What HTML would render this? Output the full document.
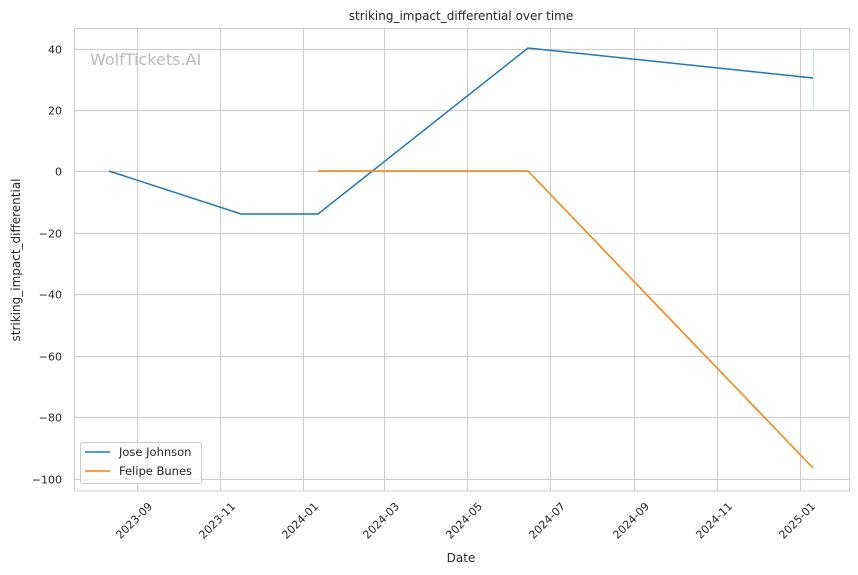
<!DOCTYPE html>
<html><head><meta charset="utf-8"><style>
body{margin:0;background:#fff}
svg{display:block;font-family:"DejaVu Sans","Liberation Sans",sans-serif}
</style></head><body>
<svg width="858" height="575" xmlns="http://www.w3.org/2000/svg">
<rect width="858" height="575" fill="#fff"/>
<g stroke="#cccccc" stroke-width="1">
<line x1="137.5" y1="28" x2="137.5" y2="491"/><line x1="220.5" y1="28" x2="220.5" y2="491"/>
<line x1="303.5" y1="28" x2="303.5" y2="491"/><line x1="384.5" y1="28" x2="384.5" y2="491"/>
<line x1="467.5" y1="28" x2="467.5" y2="491"/><line x1="550.5" y1="28" x2="550.5" y2="491"/>
<line x1="634.5" y1="28" x2="634.5" y2="491"/><line x1="717.5" y1="28" x2="717.5" y2="491"/>
<line x1="800.5" y1="28" x2="800.5" y2="491"/>
<line x1="74" y1="49.5" x2="849" y2="49.5"/><line x1="74" y1="110.5" x2="849" y2="110.5"/>
<line x1="74" y1="171.5" x2="849" y2="171.5"/><line x1="74" y1="233.5" x2="849" y2="233.5"/>
<line x1="74" y1="294.5" x2="849" y2="294.5"/><line x1="74" y1="356.5" x2="849" y2="356.5"/>
<line x1="74" y1="417.5" x2="849" y2="417.5"/><line x1="74" y1="479.5" x2="849" y2="479.5"/>
</g>
<rect x="74.5" y="28.5" width="775" height="462.5" fill="none" stroke="#cccccc"/>
<line x1="813.5" y1="49" x2="813.5" y2="109" stroke="#c6e0ec" stroke-width="1"/>
<text x="90" y="65" font-size="16" fill="#bbbbbb">WolfTickets.AI</text>
<polyline points="109,171 241,214 318,214 528,48 813,78" fill="none" stroke="#1f77b4" stroke-width="1.5"/>
<polyline points="318,171 528,171 813,468" fill="none" stroke="#ff7f0e" stroke-width="1.5"/>
<g font-size="11" fill="#262626" text-anchor="end">
<text x="62" y="53.5">40</text><text x="62" y="114.5">20</text><text x="62" y="175.5">0</text>
<text x="62" y="237.5">−20</text><text x="62" y="298.5">−40</text><text x="62" y="360.5">−60</text>
<text x="62" y="421.5">−80</text><text x="62" y="483.5">−100</text>
</g>
<g font-size="11" fill="#262626" text-anchor="end">
<text transform="translate(153,507) rotate(-45)">2023-09</text>
<text transform="translate(236,507) rotate(-45)">2023-11</text>
<text transform="translate(319,507) rotate(-45)">2024-01</text>
<text transform="translate(400,507) rotate(-45)">2024-03</text>
<text transform="translate(483,507) rotate(-45)">2024-05</text>
<text transform="translate(566,507) rotate(-45)">2024-07</text>
<text transform="translate(650,507) rotate(-45)">2024-09</text>
<text transform="translate(733,507) rotate(-45)">2024-11</text>
<text transform="translate(816,507) rotate(-45)">2025-01</text>
</g>
<text x="461" y="562" font-size="12" fill="#262626" text-anchor="middle">Date</text>
<text transform="translate(20,260) rotate(-90)" font-size="12" fill="#262626" text-anchor="middle">striking_impact_differential</text>
<text x="461" y="20" font-size="12" fill="#262626" text-anchor="middle">striking_impact_differential over time</text>
<rect x="80.5" y="442.5" width="121" height="41" rx="2" fill="#fff" fill-opacity="0.8" stroke="#cccccc"/>
<line x1="85" y1="452" x2="110" y2="452" stroke="#1f77b4" stroke-width="1.5"/>
<line x1="85" y1="471" x2="110" y2="471" stroke="#ff7f0e" stroke-width="1.5"/>
<text x="119" y="456" font-size="11.5" fill="#262626">Jose Johnson</text>
<text x="119" y="475" font-size="11.5" fill="#262626">Felipe Bunes</text>
</svg>
</body></html>
